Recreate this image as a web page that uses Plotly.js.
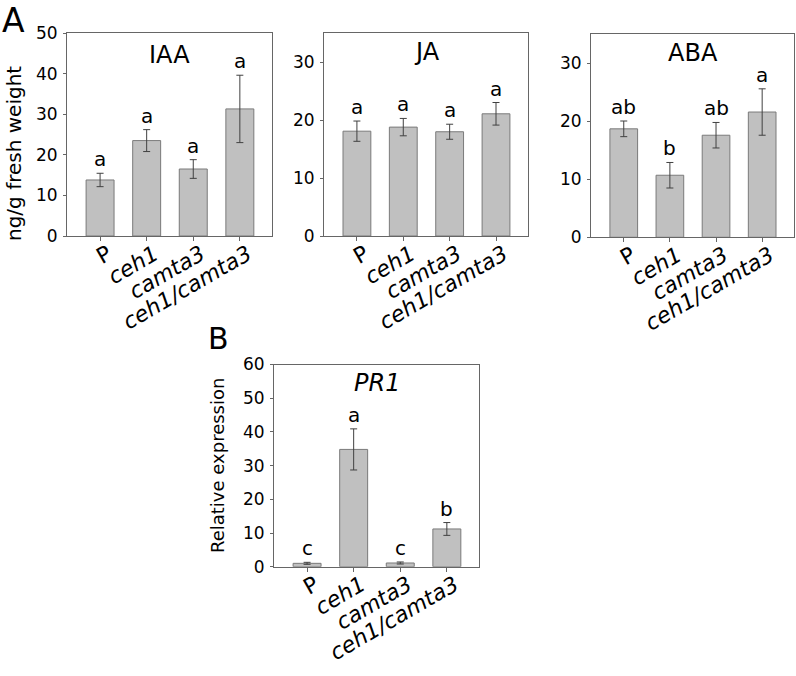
<!DOCTYPE html>
<html>
<head>
<meta charset="utf-8">
<script src="https://cdn.plot.ly/plotly-3.0.1.min.js"></script>
<style>html,body{margin:0;padding:0;background:#fff;}#chart{width:796px;height:676px;}</style>
</head>
<body>
<div id="chart"></div>
<script>
// ---- data ----
const categories = ['P', 'ceh1', 'camta3', 'ceh1/camta3'];
const tickLabels = ['P', '<i>ceh1</i>', '<i>camta3</i>', '<i>ceh1/camta3</i>'];

const iaaMean = [13.8, 23.5, 16.5, 31.3];
const iaaErr  = [1.65, 2.7, 2.3, 8.3];
const iaaLetters = ['a', 'a', 'a', 'a'];

const jaMean = [18.1, 18.8, 18.0, 21.1];
const jaErr  = [1.75, 1.5, 1.3, 1.95];
const jaLetters = ['a', 'a', 'a', 'a'];

const abaMean = [18.7, 10.7, 17.6, 21.6];
const abaErr  = [1.35, 2.2, 2.2, 4.0];
const abaLetters = ['ab', 'b', 'ab', 'a'];

const pr1Mean = [1.0, 34.8, 1.1, 11.2];
const pr1Err  = [0.3, 6.1, 0.3, 1.9];
const pr1Letters = ['c', 'a', 'c', 'b'];

// ---- styling ----
const FONT = 'DejaVu Sans, Arial, sans-serif';
const W = 796, H = 676;
const xIdx = categories.map((c, i) => i);

function barTrace(vals, errs, xa, ya) {
  return {
    type: 'bar', x: xIdx, y: vals, xaxis: xa, yaxis: ya, width: 0.6,
    marker: {color: '#c0c0c0', line: {color: '#7a7a7a', width: 1}},
    error_y: {type: 'data', array: errs, visible: true, color: '#404040', thickness: 1, width: 3.5},
    hoverinfo: 'skip'
  };
}

const data = [
  barTrace(iaaMean, iaaErr, 'x', 'y'),
  barTrace(jaMean, jaErr, 'x2', 'y2'),
  barTrace(abaMean, abaErr, 'x3', 'y3'),
  barTrace(pr1Mean, pr1Err, 'x4', 'y4')
];

function xAxis(px0, px1, anchor) {
  return {
    domain: [px0 / W, px1 / W], anchor: anchor, range: [-0.71, 3.69],
    tickvals: xIdx, ticktext: tickLabels, tickangle: -30,
    ticklabelshift: 8, ticklabelstandoff: -8,
    tickfont: {family: FONT, size: 22, color: '#000'},
    ticks: 'outside', ticklen: 4, tickcolor: '#666',
    showline: true, mirror: true, linecolor: '#666', linewidth: 1,
    showgrid: false, zeroline: false, fixedrange: true
  };
}
function yAxis(py0, py1, anchor, maxv) {
  return {
    domain: [1 - py1 / H, 1 - py0 / H], anchor: anchor, range: [0, maxv], dtick: 10,
    tickfont: {family: FONT, size: 17, color: '#000'},
    ticks: 'outside', ticklen: 3, tickcolor: '#666', ticklabelstandoff: 2,
    showline: true, mirror: true, linecolor: '#666', linewidth: 1,
    showgrid: false, zeroline: false, fixedrange: true
  };
}

const annotations = [];
function letterAnn(letters, vals, errs, xr, yr) {
  letters.forEach((t, i) => annotations.push({
    text: t, x: i, y: vals[i] + errs[i], xref: xr, yref: yr,
    xanchor: 'center', yanchor: 'bottom', showarrow: false, yshift: 0,
    font: {family: FONT, size: 20, color: '#000'}
  }));
}
letterAnn(iaaLetters, iaaMean, iaaErr, 'x', 'y');
letterAnn(jaLetters, jaMean, jaErr, 'x2', 'y2');
letterAnn(abaLetters, abaMean, abaErr, 'x3', 'y3');
letterAnn(pr1Letters, pr1Mean, pr1Err, 'x4', 'y4');

function paperText(text, px, py, size, extra) {
  annotations.push(Object.assign({
    text: text, x: px / W, y: 1 - py / H, xref: 'paper', yref: 'paper',
    xanchor: 'center', yanchor: 'middle', showarrow: false,
    font: {family: FONT, size: size, color: '#000'}
  }, extra || {}));
}
paperText('IAA', 169, 55, 24);
paperText('JA', 427, 52, 24);
paperText('ABA', 693, 53, 24);
paperText('<i>PR1</i>', 377, 383, 24);
paperText('A', 13, 20, 33);
paperText('B', 218, 339, 30);
paperText('ng/g fresh weight', 14, 154, 20, {textangle: -90});
paperText('Relative expression', 217, 466, 18, {textangle: -90});

const layout = {
  width: W, height: H, margin: {l: 0, r: 0, t: 0, b: 0},
  paper_bgcolor: '#fff', plot_bgcolor: '#fff', showlegend: false,
  font: {family: FONT, color: '#000'},
  xaxis: xAxis(67, 272, 'y'),   yaxis: yAxis(33, 236, 'x', 50),
  xaxis2: xAxis(324, 528, 'y2'), yaxis2: yAxis(33.3, 236, 'x2', 35),
  xaxis3: xAxis(591, 794, 'y3'), yaxis3: yAxis(34.3, 237.3, 'x3', 35),
  xaxis4: xAxis(274, 479, 'y4'), yaxis4: yAxis(364.5, 566.7, 'x4', 60),
  annotations: annotations,
  bargap: 0.4
};

Plotly.newPlot('chart', data, layout, {displayModeBar: false, staticPlot: true});
</script>
</body>
</html>
